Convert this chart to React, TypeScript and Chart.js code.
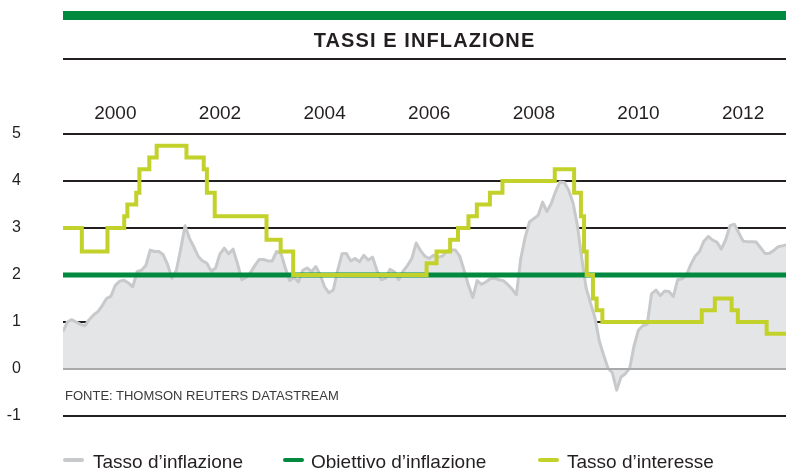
import React, { useEffect, useRef } from "react";
import { Chart, registerables } from "chart.js";

Chart.register(...registerables);

// ---------- data ----------
const titleText = "TASSI E INFLAZIONE";
const sourceText = "FONTE: THOMSON REUTERS DATASTREAM";
const yearTicks = [2000, 2002, 2004, 2006, 2008, 2010, 2012];
const yMin = -1;
const yMax = 5;
const xMin = 1999.0;
const xMax = 2012.82;

// Monthly inflation (%), January 1999 onwards
const inflationStart = 1999;
const inflation = [
  0.8, 1.0, 1.05, 1.0, 0.95, 0.92, 1.05, 1.15, 1.22, 1.35, 1.5, 1.55,
  1.78, 1.87, 1.89, 1.83, 1.75, 2.07, 2.1, 2.2, 2.53, 2.5, 2.5, 2.43,
  2.22, 1.93, 2.1, 2.55, 3.05, 2.78, 2.6, 2.4, 2.3, 2.25, 2.08, 2.15,
  2.45, 2.57, 2.45, 2.55, 2.25, 1.9, 1.95, 2.05, 2.2, 2.33, 2.33, 2.3,
  2.3, 2.5, 2.46, 2.15, 1.88, 1.95, 1.85, 2.1, 2.15, 2.07, 2.18, 2.0,
  1.75, 1.62, 1.68, 2.1, 2.45, 2.46, 2.3, 2.35, 2.28, 2.42, 2.32, 2.38,
  2.1, 1.9, 1.93, 2.12, 2.07, 1.9, 2.08, 2.2, 2.35, 2.68, 2.52, 2.4,
  2.35, 2.42, 2.38, 2.4, 2.5, 2.53, 2.53, 2.4, 2.1, 1.78, 1.52, 1.88,
  1.8, 1.85, 1.92, 1.93, 1.9, 1.88, 1.8, 1.7, 1.58, 2.35, 2.8, 3.13,
  3.2, 3.27, 3.55, 3.35, 3.52, 3.78, 3.98, 3.97, 3.8, 3.53, 3.05, 2.35,
  1.72, 1.4, 1.1, 0.6, 0.3, 0.02, -0.08, -0.45, -0.17, -0.1, 0.02, 0.5,
  0.83, 0.92, 0.95, 1.6, 1.68, 1.56, 1.66, 1.65, 1.54, 1.9, 1.92, 2.0,
  2.22, 2.4, 2.5, 2.72, 2.82, 2.74, 2.7, 2.55, 2.75, 3.05, 3.08, 2.9,
  2.72, 2.71, 2.71, 2.7, 2.58, 2.46, 2.46, 2.52, 2.6, 2.62, 2.64,
];

// Interest rate: change dates (decimal years) and new level (%)
const rateDates = [
  1999.0, 1999.36, 1999.85, 2000.17, 2000.23, 2000.4, 2000.46, 2000.65, 2000.79,
  2001.36, 2001.69, 2001.75, 2001.9, 2002.89, 2003.16, 2003.4, 2005.95, 2006.14,
  2006.4, 2006.55, 2006.75, 2006.91, 2007.16, 2007.4, 2008.4, 2008.77, 2008.9,
  2008.96, 2009.01, 2009.13, 2009.2, 2009.31, 2011.21, 2011.46, 2011.78, 2011.9,
  2012.45, 2012.82,
];
const rateValues = [
  3.0, 2.5, 3.0, 3.25, 3.5, 3.75, 4.25, 4.5, 4.75,
  4.5, 4.25, 3.75, 3.25, 2.75, 2.5, 2.0, 2.25, 2.5,
  2.75, 3.0, 3.25, 3.5, 3.75, 4.0, 4.25, 3.75, 3.25,
  2.5, 2.0, 1.5, 1.25, 1.0, 1.25, 1.5, 1.25, 1.0,
  0.75, 0.75,
];

// Inflation target (%)
const targetDates = [1999.0, 2012.82];
const targetValues = [2, 2];

const seriesNames = ["Tasso d\u2019inflazione", "Obiettivo d\u2019inflazione", "Tasso d\u2019interesse"];

// ---------- styles ----------
const COLORS = {
  inflLine: "#c8c9cb",
  inflFill: "#e4e5e7",
  target: "#00893f",
  rate: "#c3d12b",
  grid: "#231f20",
  zero: "#a9aaac",
  text: "#231f20",
};
const FONT = "'Liberation Sans', Arial, Helvetica, sans-serif";

const zeroLinePlugin = {
  id: "zeroLine",
  afterDatasetsDraw(chart: any) {
    const { ctx, chartArea, scales } = chart;
    const y = scales.y.getPixelForValue(0);
    ctx.save();
    ctx.strokeStyle = COLORS.zero;
    ctx.lineWidth = 2;
    ctx.beginPath();
    ctx.moveTo(chartArea.left, y);
    ctx.lineTo(chartArea.right, y);
    ctx.stroke();
    ctx.restore();
  },
};

export default function App() {
  const canvasRef = useRef<HTMLCanvasElement | null>(null);

  useEffect(() => {
    const canvas = canvasRef.current;
    if (!canvas) return;
    Chart.defaults.font.family = FONT;
    const chart = new Chart(canvas, {
      type: "line",
      data: {
        datasets: [
          {
            label: seriesNames[2],
            data: rateDates.map((d, i) => ({ x: d, y: rateValues[i] })),
            borderColor: COLORS.rate,
            borderWidth: 4,
            stepped: true,
            pointRadius: 0,
            fill: false,
            order: 1,
          },
          {
            label: seriesNames[1],
            data: targetDates.map((d, i) => ({ x: d, y: targetValues[i] })),
            borderColor: COLORS.target,
            borderWidth: 5,
            pointRadius: 0,
            fill: false,
            order: 2,
          },
          {
            label: seriesNames[0],
            data: inflation.map((v, i) => ({ x: inflationStart + i / 12, y: v })),
            borderColor: COLORS.inflLine,
            backgroundColor: COLORS.inflFill,
            borderWidth: 3,
            borderJoinStyle: "round",
            pointRadius: 0,
            tension: 0,
            fill: "origin",
            order: 3,
          },
        ],
      },
      options: {
        responsive: false,
        animation: false,
        layout: { padding: { left: 0, right: 0, top: 0, bottom: 53 } },
        plugins: {
          legend: { display: false },
          title: { display: false },
          tooltip: { enabled: false },
        },
        scales: {
          x: {
            type: "linear",
            position: "top",
            min: xMin,
            max: xMax,
            grid: { display: false, drawTicks: false },
            border: { display: false },
            afterBuildTicks: (scale: any) => {
              scale.ticks = yearTicks.map((v) => ({ value: v }));
            },
            afterFit: (scale: any) => {
              scale.height = 134;
            },
            ticks: {
              autoSkip: false,
              maxRotation: 0,
              padding: 9,
              color: COLORS.text,
              font: { size: 19 },
              callback: (v: any) => String(v),
            },
          },
          y: {
            type: "linear",
            min: yMin,
            max: yMax,
            afterFit: (scale: any) => {
              scale.width = 63;
            },
            grid: {
              drawTicks: false,
              lineWidth: 2,
              color: (ctx: any) => {
                const v = ctx.tick ? ctx.tick.value : null;
                if (v === 0 || v === 2) return "rgba(0,0,0,0)";
                return COLORS.grid;
              },
            },
            border: { display: false },
            ticks: {
              stepSize: 1,
              padding: 42,
              color: COLORS.text,
              font: { size: 16 },
              callback: (v: any) => String(v),
            },
          },
        },
      },
      plugins: [zeroLinePlugin],
    } as any);
    return () => chart.destroy();
  }, []);

  const legendItems = [
    { color: COLORS.inflLine, label: seriesNames[0], mx: 63, tx: 93 },
    { color: COLORS.target, label: seriesNames[1], mx: 283, tx: 311 },
    { color: COLORS.rate, label: seriesNames[2], mx: 538, tx: 567 },
  ];

  return (
    <div
      style={{
        position: "absolute",
        left: 0,
        top: 0,
        width: 786,
        height: 469,
        background: "#ffffff",
        fontFamily: FONT,
        color: COLORS.text,
        overflow: "hidden",
      }}
    >
      <canvas
        ref={canvasRef}
        width={786}
        height={469}
        style={{ position: "absolute", left: 0, top: 0, width: 786, height: 469 }}
      />
      <div style={{ position: "absolute", left: 63, top: 11, width: 723, height: 9, background: COLORS.target }} />
      <div
        style={{
          position: "absolute",
          left: 63,
          top: 30,
          width: 723,
          textAlign: "center",
          fontSize: 20,
          lineHeight: "20px",
          fontWeight: 700,
          letterSpacing: "1.1px",
          whiteSpace: "nowrap",
        }}
      >
        {titleText}
      </div>
      <div style={{ position: "absolute", left: 63, top: 58, width: 723, height: 2, background: COLORS.grid }} />
      <div
        style={{
          position: "absolute",
          left: 65,
          top: 389,
          fontSize: 13,
          lineHeight: "13px",
          color: "#3a3a3a",
          whiteSpace: "nowrap",
        }}
      >
        {sourceText}
      </div>
      {legendItems.map((it) => (
        <React.Fragment key={it.label}>
          <div
            style={{
              position: "absolute",
              left: it.mx,
              top: 458,
              width: 21,
              height: 4,
              borderRadius: 2,
              background: it.color,
            }}
          />
          <div
            style={{
              position: "absolute",
              left: it.tx,
              top: 452,
              fontSize: 19,
              lineHeight: "19px",
              whiteSpace: "nowrap",
            }}
          >
            {it.label}
          </div>
        </React.Fragment>
      ))}
    </div>
  );
}
